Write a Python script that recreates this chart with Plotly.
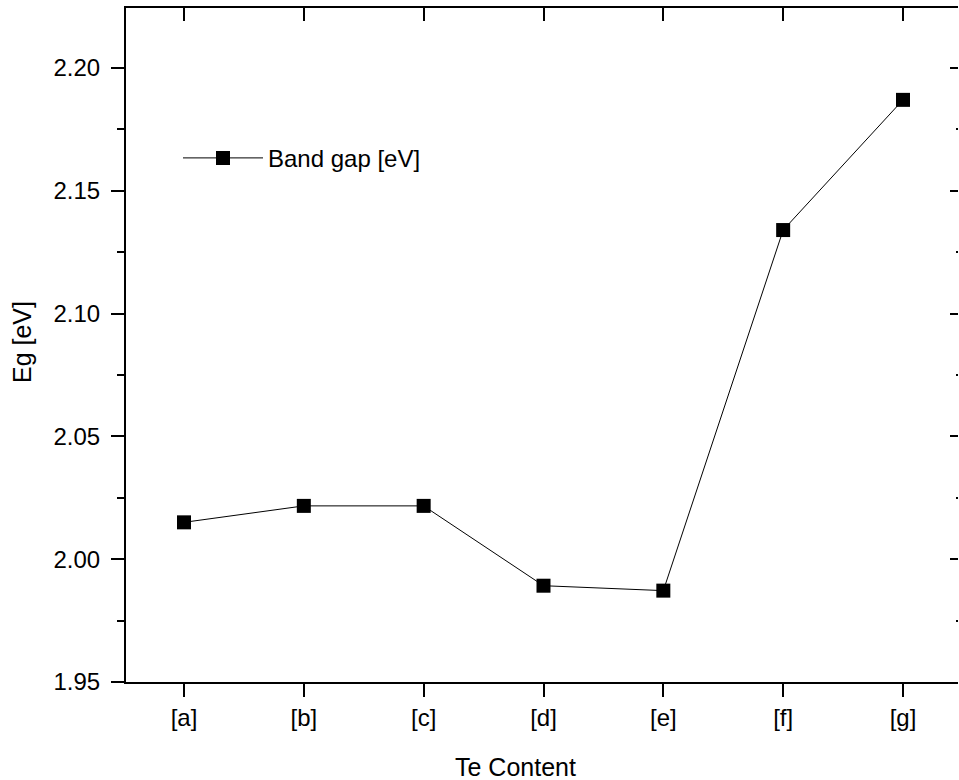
import plotly.graph_objects as go

categories = ["[a]", "[b]", "[c]", "[d]", "[e]", "[f]", "[g]"]
band_gap = [2.015, 2.0217, 2.0217, 1.9892, 1.9872, 2.134, 2.187]
series_name = "Band gap [eV]"
y_ticks = [1.95, 2.00, 2.05, 2.10, 2.15, 2.20]
x_title = "Te Content"
y_title = "Eg [eV]"

FONT = "Arial, Liberation Sans, sans-serif"
X_RANGE = [-0.484, 6.459]
Y_RANGE = [1.95, 2.2244]

fig = go.Figure()
fig.add_trace(go.Scatter(
    x=categories, y=band_gap, name=series_name, mode="lines+markers",
    line=dict(color="black", width=1),
    marker=dict(symbol="square", size=14, color="black"),
))

fig.update_layout(
    width=959, height=780,
    margin=dict(l=126, r=1, t=8, b=98),
    paper_bgcolor="white", plot_bgcolor="white",
    font=dict(family=FONT, color="black", size=24),
    showlegend=True,
    legend=dict(x=0.0625, y=0.777, xanchor="left", yanchor="middle",
                bgcolor="rgba(0,0,0,0)", font=dict(size=24), itemwidth=80),
    xaxis=dict(type="category", range=X_RANGE, showline=True, linecolor="black", linewidth=2,
               ticks="outside", ticklen=13, tickwidth=2, tickcolor="black",
               showgrid=False, zeroline=False, tickfont=dict(size=24)),
    xaxis2=dict(type="category", range=X_RANGE, overlaying="x", side="top", anchor="y",
                showline=True, linecolor="black", linewidth=2,
                ticks="inside", ticklen=13, tickwidth=2, tickcolor="black",
                showticklabels=False, showgrid=False, zeroline=False,
                categoryorder="array", categoryarray=categories,
                tickvals=categories),
    yaxis=dict(range=Y_RANGE, tickvals=y_ticks, tickformat=".2f",
               showline=True, linecolor="black", linewidth=2,
               ticks="outside", ticklen=13, tickwidth=2, tickcolor="black",
               minor=dict(dtick=0.025, tick0=1.95, ticks="outside", ticklen=7, tickwidth=2, tickcolor="black"),
               showgrid=False, zeroline=False, ticklabelstandoff=6, tickfont=dict(size=24)),
    yaxis2=dict(range=Y_RANGE, overlaying="y", side="right", anchor="x",
                tickvals=y_ticks, showline=False,
                ticks="inside", ticklen=8, tickwidth=2, tickcolor="black",
                minor=dict(dtick=0.025, tick0=1.95, ticks="inside", ticklen=2, tickwidth=2, tickcolor="black"),
                showticklabels=False, showgrid=False, zeroline=False),
    annotations=[
        dict(text=x_title, xref="paper", yref="paper", x=(515 - 126) / 832, y=-(767 - 682) / 674,
             xanchor="center", yanchor="middle", showarrow=False, font=dict(size=25)),
        dict(text=y_title, xref="paper", yref="paper", x=-(126 - 22) / 832, y=(682 - 342) / 674,
             xanchor="center", yanchor="middle", showarrow=False, textangle=-90, font=dict(size=25)),
    ],
)

# invisible trace to activate the mirrored axes
fig.add_trace(go.Scatter(x=categories, y=band_gap, xaxis="x2", yaxis="y2", mode="markers",
                         marker=dict(opacity=0), showlegend=False, hoverinfo="skip"))

fig.write_html(
    "out.html",
    config={"displayModeBar": False},
    post_script="document.body.style.margin='0';document.body.style.padding='0';"
                "document.body.style.overflow='hidden';",
)
